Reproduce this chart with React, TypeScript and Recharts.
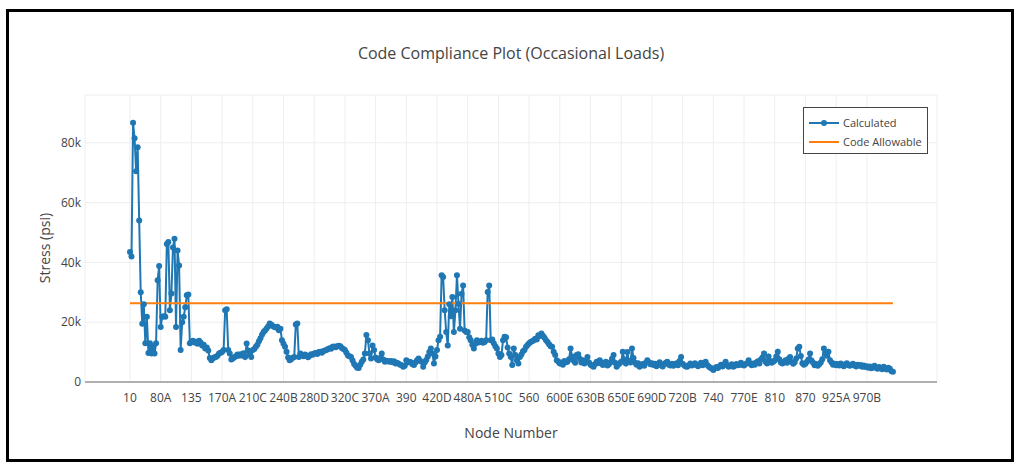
import React from "react";
import { LineChart, Line, XAxis, YAxis, CartesianGrid } from "recharts";

// Tick labels of the category (node) axis, one every TICK_STEP nodes
const TICK_LABELS = [
  "10", "80A", "135", "170A", "210C", "240B", "280D", "320C", "370A", "390",
  "420D", "480A", "510C", "560", "600E", "630B", "650E", "690D", "720B", "740",
  "770E", "810", "870", "925A", "970B",
];
const TICK_STEP = 20;

// Code allowable stress (ksi)
const CODE_ALLOWABLE_KSI = 26.3;

// Calculated stress per node (ksi)
const CALCULATED_KSI = [
  // 10 ..
  43.5, 42, 86.7, 81.5, 70.5, 78.5, 54, 30, 19.5, 26, 13, 21.8, 9.7, 13, 9.5, 12, 9.5, 13, 34, 38.8,
  // 80A ..
  18.4, 21.8, 22, 21.8, 46.2, 46.8, 24, 29.6, 45, 47.9, 18.4, 44, 39, 10.7, 20, 21.8, 25, 29, 29.3, 13,
  // 135 ..
  13.5, 13.8, 13.2, 13.5, 12.8, 13.8, 13.2, 12.2, 12.5, 11.2, 11.5, 10.5, 8, 7.3, 7.9, 8.3, 8.4, 8.8, 9.5, 9.8,
  // 170A ..
  10, 10.7, 24, 24.3, 10.7, 9.5, 7.5, 7.9, 8.3, 8.6, 9.2, 8.8, 9.3, 8.9, 9.6, 8.4, 12.9, 10.5, 9.2, 8.4,
  // 210C ..
  10.7, 11, 11.8, 12.5, 13.6, 14.6, 15.8, 16.7, 17.2, 17.9, 18.6, 19.6, 19.2, 18.7, 18.4, 18.2, 18.5, 17.3, 17.8, 14,
  // 240B ..
  12.8, 11.8, 10.1, 8.2, 7.3, 7.6, 8.1, 8.4, 19.2, 19.6, 8.4, 9.5, 9, 8.6, 9.2, 8.9, 8.3, 8.8, 9.3, 9.1,
  // 280D ..
  9.5, 9.7, 9.4, 10, 10.1, 9.8, 10.4, 10.5, 10.7, 11, 11.3, 11.1, 11.8, 11.9, 11.6, 12, 12.1, 12, 11.4, 11,
  // 320C ..
  10.7, 9.8, 8.9, 8.6, 8.4, 7.2, 6, 5.4, 4.8, 4.7, 5.8, 6.8, 7.5, 9.5, 15.7, 14, 9.5, 7.9, 12.2, 10.7,
  // 370A ..
  8.2, 7.6, 7.3, 8, 9.5, 7.5, 6.8, 7.1, 6.9, 6.8, 7, 6.6, 6.9, 6.2, 6.4, 6.1, 5.8, 5.6, 5.1, 5.4,
  // 390 ..
  7.3, 6.5, 6.8, 6.6, 5.9, 5.7, 6.5, 7.3, 7.9, 7, 6.8, 5.1, 6.5, 7.4, 8.5, 10, 11.2, 9.5, 6.2, 8.5,
  // 420D ..
  10.7, 14, 15.1, 35.7, 35.1, 24, 16.7, 12.2, 26, 22, 28.4, 16.7, 24, 35.7, 26.1, 17.8, 29.5, 32.3, 17.2, 16.7,
  // 480A ..
  16.7, 15, 14, 12.5, 11.2, 12.8, 14, 13.2, 13.4, 13.8, 13.1, 13.4, 14, 30.1, 32.3, 14, 14.2, 13, 12, 11.2,
  // 510C ..
  9.5, 8.4, 9, 14, 15.1, 15, 11.5, 9.5, 8.4, 5.7, 11.2, 9, 7.3, 6.2, 8.4, 9.2, 10.3, 10.7, 11.8, 12.4,
  // 560 ..
  13, 13.4, 13.6, 14, 14.5, 14.2, 15.6, 15.4, 16.2, 15.5, 14.8, 14, 13.4, 12.6, 12, 11.8, 10.1, 9, 7.3, 6.8,
  // 600E ..
  6.2, 6.5, 5.8, 7, 6.6, 6.8, 7.6, 11.2, 8.5, 7.2, 6.4, 9, 9.3, 7.8, 6.5, 7.3, 6.2, 7.1, 8.4, 6.5,
  // 630B ..
  5.8, 5.4, 5.1, 6, 6.8, 6.3, 7.3, 6.5, 5.7, 6.2, 6.8, 5.5, 5.9, 6.6, 7.8, 9, 6.4, 5.1, 5.8, 6.3,
  // 650E ..
  6.8, 10.1, 7.5, 6.2, 10, 7, 6.5, 11.2, 8, 6.4, 5.8, 6.3, 5.1, 5.6, 6, 5.4, 6.4, 7.3, 6.6, 5.9,
  // 690D ..
  6.3, 5.7, 6.1, 5.3, 5.9, 6.6, 5.6, 5.2, 6, 6.4, 6.8, 5.8, 5.5, 6.1, 5.4, 5.9, 6.3, 5.6, 7, 8.4,
  // 720B ..
  6.1, 5.6, 5.2, 5.1, 5.6, 6.2, 5.5, 5.8, 6.3, 5.7, 5.3, 5.9, 6.4, 5.6, 6.1, 6.8, 5.7, 5.2, 4.8, 4.5,
  // 740 ..
  4, 4.6, 5, 4.7, 5.3, 5.8, 5.2, 5.9, 6.8, 5.6, 5.1, 5.5, 5.9, 5.1, 5.4, 6, 5.6, 5.8, 6.4, 5.7,
  // 770E ..
  5.5, 6, 6.3, 7.3, 6.1, 5.6, 6.2, 5.8, 6.5, 6.9, 6.2, 7.5, 8.2, 9.5, 6.8, 6.2, 8.5, 7, 6.4, 6.8,
  // 810 ..
  7.2, 8.5, 10.1, 7.6, 6.5, 6.2, 6.8, 7.3, 6.4, 7.8, 8.4, 6.7, 6.1, 6.6, 7.9, 11.2, 11.8, 8.7, 6.3, 5.8,
  // 870 ..
  6.1, 6.8, 7.5, 9.5, 7.2, 6.4, 5.6, 6, 5.4, 5.9, 6.5, 7.6, 11.2, 9.8, 8.8, 10.1, 7.3, 6.5, 5.8, 6.1,
  // 925A ..
  5.6, 6, 5.5, 6.2, 5.7, 5.3, 5.9, 6.3, 5.6, 5.4, 5.8, 6.1, 5.5, 5.2, 5.8, 5.4, 5.7, 5.1, 5.5, 5,
  // 970B ..
  5.3, 4.8, 5.2, 4.6, 5, 5.4, 4.7, 4.4, 5, 4.6, 4.3, 5.1, 4.5, 4.2, 4.8, 4.4, 3.6, 3.4,
];

const Y_TICKS = [0, 20, 40, 60, 80];

const BLUE = "#1f77b4";
const ORANGE = "#ff7f0e";
const FONT = '"Open Sans", "Noto Sans", sans-serif';
const TEXT = "#444";

const data = CALCULATED_KSI.map((v, i) => ({ i, calc: v, allow: CODE_ALLOWABLE_KSI }));
const tickIndices = TICK_LABELS.map((_, k) => k * TICK_STEP);

export default function App() {
  return (
    <div
      style={{
        position: "fixed",
        left: 0,
        top: 0,
        width: 1024,
        height: 472,
        background: "#fff",
        fontFamily: FONT,
        overflow: "hidden",
      }}
    >
      <div
        style={{
          position: "absolute",
          left: 6,
          top: 9,
          width: 1008,
          height: 453,
          border: "3px solid #000",
          boxSizing: "border-box",
        }}
      />
      <div style={{ position: "absolute", left: 0, top: 0 }}>
        <LineChart
          width={1024}
          height={472}
          data={data}
          margin={{ top: 95, right: 87, bottom: 0, left: 0 }}
        >
          <CartesianGrid stroke="#eee" strokeWidth={1} />
          <XAxis
            type="number"
            dataKey="i"
            domain={[-29.3, 525.7]}
            allowDataOverflow
            ticks={tickIndices}
            interval={0}
            tickFormatter={(v: number) => TICK_LABELS[Math.round(v / TICK_STEP)] ?? ""}
            height={90}
            tickSize={0}
            tickMargin={11}
            axisLine={{ stroke: "#999", strokeWidth: 1.5 }}
            tick={{ fill: TEXT, fontSize: 12, fontFamily: FONT }}
          />
          <YAxis
            type="number"
            domain={[0, 96]}
            allowDataOverflow
            ticks={Y_TICKS}
            interval={0}
            tickFormatter={(v: number) => (v === 0 ? "0" : `${v}k`)}
            width={85}
            tickSize={0}
            tickMargin={4}
            axisLine={false}
            tick={{ fill: TEXT, fontSize: 12, fontFamily: FONT }}
          />
          <Line
            type="linear"
            dataKey="calc"
            stroke={BLUE}
            strokeWidth={2}
            dot={{ r: 3, fill: BLUE, stroke: BLUE, strokeWidth: 0 }}
            isAnimationActive={false}
          />
          <Line
            type="linear"
            dataKey="allow"
            stroke={ORANGE}
            strokeWidth={2}
            dot={false}
            isAnimationActive={false}
          />
        </LineChart>
      </div>

      {/* Title */}
      <div
        style={{
          position: "absolute",
          left: 0,
          width: 1022,
          top: 42,
          textAlign: "center",
          fontSize: 16,
          color: TEXT,
          lineHeight: "22px",
        }}
      >
        Code Compliance Plot (Occasional Loads)
      </div>

      {/* X axis title */}
      <div
        style={{
          position: "absolute",
          left: 85,
          width: 852,
          top: 424,
          textAlign: "center",
          fontSize: 14,
          color: TEXT,
          lineHeight: "18px",
        }}
      >
        Node Number
      </div>

      {/* Y axis title */}
      <div
        style={{
          position: "absolute",
          left: 45,
          top: 248,
          transform: "translate(-50%, -50%) rotate(-90deg)",
          fontSize: 14,
          color: TEXT,
          whiteSpace: "nowrap",
          lineHeight: "18px",
        }}
      >
        Stress (psi)
      </div>

      {/* Legend */}
      <div
        style={{
          position: "absolute",
          left: 803,
          top: 107,
          width: 125,
          height: 47,
          border: "1px solid #444",
          background: "#fff",
          boxSizing: "border-box",
        }}
      >
        <svg width={123} height={45} style={{ position: "absolute", left: 0, top: 0 }}>
          <line x1={5} y1={15} x2={35} y2={15} stroke={BLUE} strokeWidth={2} />
          <circle cx={20} cy={15} r={3} fill={BLUE} />
          <line x1={5} y1={34} x2={35} y2={34} stroke={ORANGE} strokeWidth={2} />
          <text x={39} y={15} dy="0.35em" fontSize={11} fill={TEXT} fontFamily={FONT}>
            Calculated
          </text>
          <text x={39} y={34} dy="0.35em" fontSize={11} fill={TEXT} fontFamily={FONT}>
            Code Allowable
          </text>
        </svg>
      </div>
    </div>
  );
}
